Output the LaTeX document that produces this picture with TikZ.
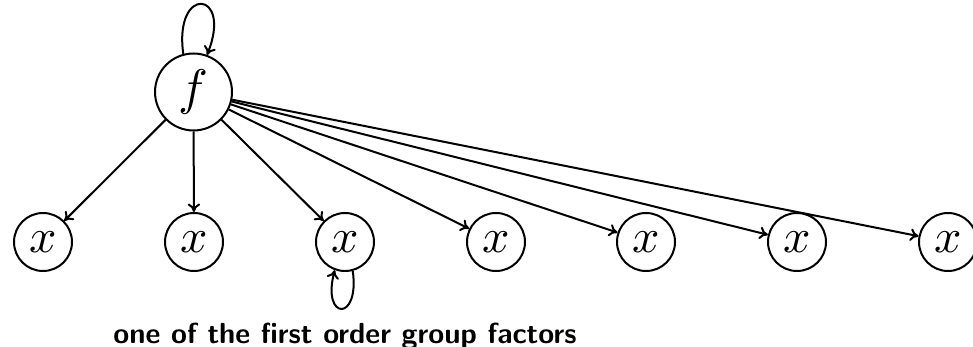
\documentclass[tikz,border=0pt]{standalone}
\usepackage{graphicx}
\usetikzlibrary{arrows.meta}
\begin{document}
\begin{tikzpicture}[x=1pt,y=-1pt,line width=2pt,
  bignode/.style={circle,draw,inner sep=0pt,minimum size=77pt},
  smallnode/.style={circle,draw,inner sep=0pt,minimum size=58pt},
  edge/.style={-{To[length=8.5pt,width=12.5pt]}},
  caption/.style={font=\fontsize{29}{34}\selectfont\sffamily\bfseries,inner sep=0pt,anchor=base}]
\useasboundingbox (0,0) rectangle (973,347);
\node[bignode] (f) at (193.5,92) {\scalebox{5}{$f$}};
\node[smallnode] (x1) at (43,242) {\scalebox{4.8}{$x$}};
\node[smallnode] (x2) at (194,242) {\scalebox{4.8}{$x$}};
\node[smallnode] (x3) at (345,242) {\scalebox{4.8}{$x$}};
\node[smallnode] (x4) at (496,242) {\scalebox{4.8}{$x$}};
\node[smallnode] (x5) at (646,242) {\scalebox{4.8}{$x$}};
\node[smallnode] (x6) at (797,242) {\scalebox{4.8}{$x$}};
\node[smallnode] (x7) at (948,242) {\scalebox{4.8}{$x$}};
\foreach \i in {1,...,7} \draw[edge] (f) -- (x\i);
\draw[edge] (f.105) .. controls +(-98:70) and +(-68:70) .. (f.70);
\draw[edge] (x3.-75) .. controls +(82:52) and +(105:52) .. (x3.-110);
\node[caption] (cap) at (345,343) {one of the first order group factors};
\end{tikzpicture}
\end{document}
